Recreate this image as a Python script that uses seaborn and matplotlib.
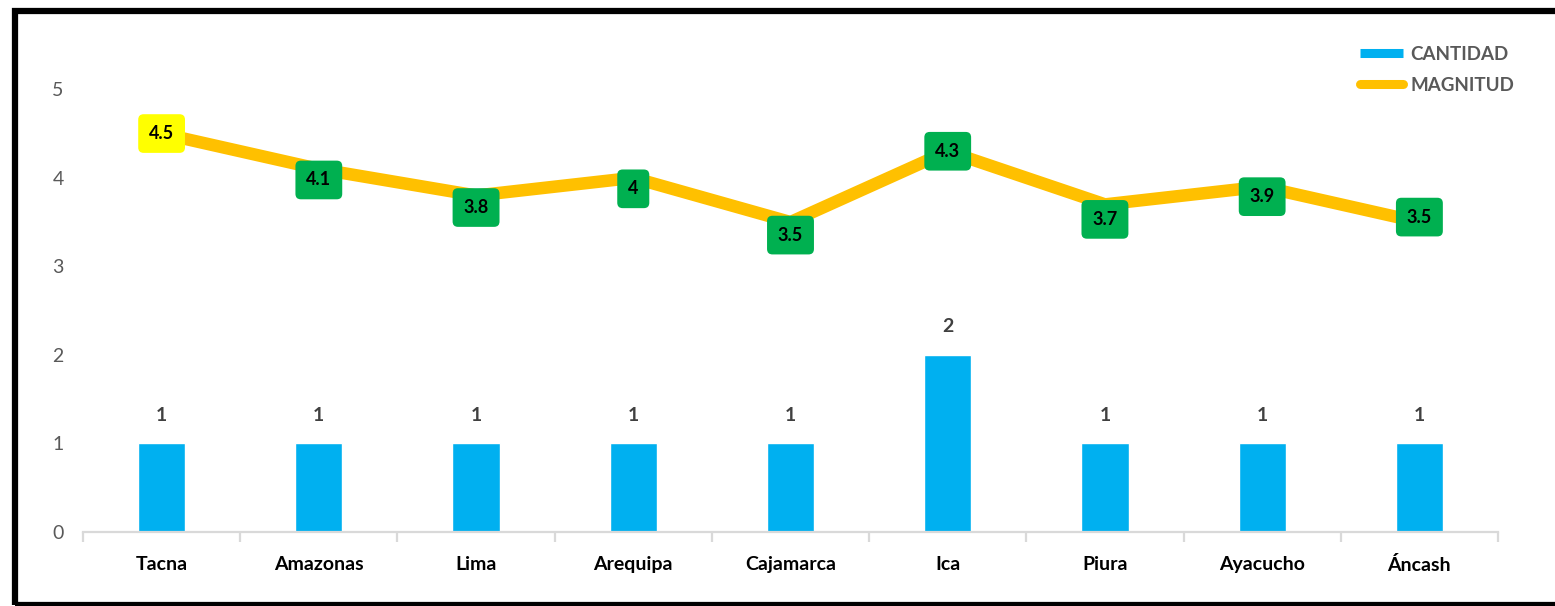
import numpy as np
import pandas as pd
import matplotlib
matplotlib.use("Agg")
import matplotlib.pyplot as plt
from matplotlib.lines import Line2D
from matplotlib.patches import Rectangle
import seaborn as sns

# ---- data ----
regions = ["Tacna", "Amazonas", "Lima", "Arequipa", "Cajamarca", "Ica", "Piura", "Ayacucho", "Áncash"]
cantidad = [1, 1, 1, 1, 1, 2, 1, 1, 1]
magnitud = [4.5, 4.1, 3.8, 4.0, 3.5, 4.3, 3.7, 3.9, 3.5]
series_names = ["CANTIDAD", "MAGNITUD"]
y_ticks = [0, 1, 2, 3, 4, 5]

# ---- styles ----
BLUE = "#00B0F0"
ORANGE = "#FFC000"
GREEN = "#00B050"
YELLOW = "#FFFF00"
GRAY = "#595959"
DARK = "#404040"
AXIS = "#D9D9D9"
label_dy_px = [0, -11, -12, -11, -13, 0, -15, -10, 5]  # label offsets (pixels)

sns.set_theme(style="white")
plt.rcParams["font.family"] = ["Lato", "DejaVu Sans"]

W, H, DPI = 1555, 606, 100
fig = plt.figure(figsize=(W / DPI, H / DPI), dpi=DPI)
ax = fig.add_axes([83 / W, 1 - 532 / H, (1498 - 83) / W, (532 - 45) / H])

df = pd.DataFrame({"region": regions, "cantidad": cantidad, "magnitud": magnitud})

sns.barplot(data=df, x="region", y="cantidad", color=BLUE, width=0.3,
            saturation=1, ax=ax, order=regions)

xpos = np.arange(len(regions))
sns.lineplot(x=xpos, y=df["magnitud"], color=ORANGE, linewidth=9, ax=ax,
             sort=False, solid_joinstyle="round", solid_capstyle="round")

ax.set_xlim(-0.5, len(regions) - 0.5)
ax.set_ylim(0, 5.5)
ax.set_yticks(y_ticks)
ax.set_xlabel("")
ax.set_ylabel("")

# bar labels
for c in ax.containers:
    ax.bar_label(c, labels=[f"{v:g}" for v in cantidad], padding=14,
                 fontsize=14, fontweight="bold", color=DARK)

# line value labels
for i, (x, v) in enumerate(zip(xpos, magnitud)):
    fc = YELLOW if i == 0 else GREEN
    ax.annotate(f"{v:g}", (x, v), xytext=(0, label_dy_px[i] * 72 / DPI),
                textcoords="offset points", ha="center", va="center",
                fontsize=13, fontweight="bold", color="black", zorder=5,
                bbox=dict(boxstyle="round,pad=0.6,rounding_size=0.3",
                          fc=fc, ec="none"))

# axes styling
for s in ["top", "right", "left"]:
    ax.spines[s].set_visible(False)
ax.spines["bottom"].set_color(AXIS)
ax.spines["bottom"].set_linewidth(1.6)
ax.set_xticks(np.arange(-0.5, len(regions), 1.0), minor=True)
ax.tick_params(axis="x", which="major", bottom=True, length=0, pad=17,
               labelsize=14, labelcolor="black")
ax.tick_params(axis="x", which="minor", bottom=True, length=7, width=1.6,
               color=AXIS, direction="out")
for t in ax.get_xticklabels():
    t.set_fontweight("bold")
ax.tick_params(axis="y", length=0, pad=14, labelsize=14, labelcolor=GRAY)
ax.grid(False)

# legend
handles = [
    Line2D([0], [0], color=BLUE, lw=6.5, solid_capstyle="butt"),
    Line2D([0], [0], color=ORANGE, lw=6.5, solid_capstyle="round"),
]
leg = ax.legend(handles, series_names, loc="center left",
                bbox_to_anchor=(1360 / W, 1 - 70 / H), bbox_transform=fig.transFigure,
                frameon=False, borderpad=0, borderaxespad=0, handlelength=2.3,
                handletextpad=0.4, labelspacing=0.75,
                prop={"size": 13.5, "weight": "bold"})
for t in leg.get_texts():
    t.set_color(GRAY)

# outer black frame
fig.patches.append(Rectangle((15 / W, 1 - 604.5 / H), 1.1, (604.5 - 11) / H,
                             transform=fig.transFigure, fill=False,
                             ec="black", lw=4.5, zorder=10))

fig.savefig("out.png", dpi=DPI)
